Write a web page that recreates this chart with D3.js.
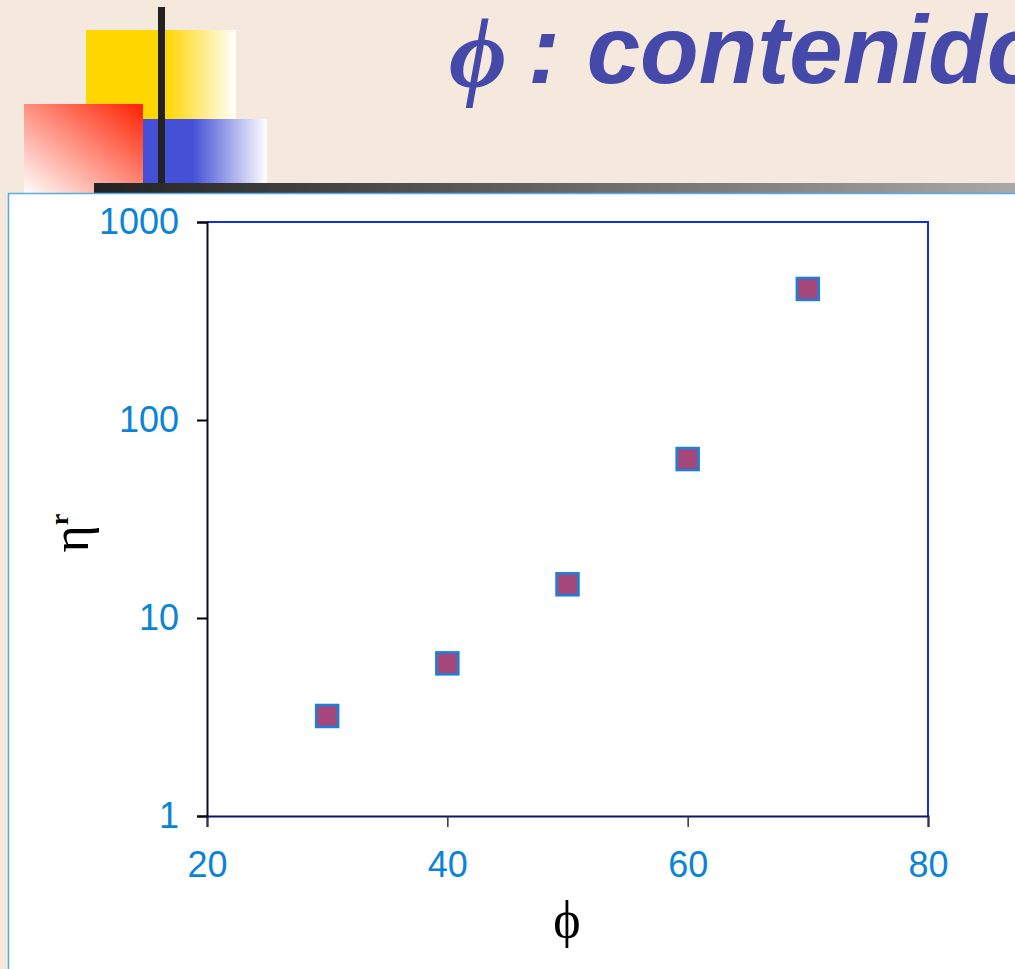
<!DOCTYPE html>
<html>
<head>
<meta charset="utf-8">
<script src="https://cdn.jsdelivr.net/npm/d3@7"></script>
<style>
  body { margin: 0; background: #F5E8DD; overflow: hidden; }
  svg { display: block; }
</style>
</head>
<body>
<div id="vis"></div>
<script>
const FRAME_WIDTH = 1015;
const FRAME_HEIGHT = 969;
const PLOT = {left: 207, right: 928, top: 222, bottom: 816};

// data
const PHI = [30, 40, 50, 60, 70];
const ETA_R = [3.2, 5.9, 14.8, 63.5, 459];
const X_TICKS = [20, 40, 60, 80];
const Y_TICKS = [1, 10, 100, 1000];

const X_SCALE = d3.scaleLinear()
                  .domain([20, 80])
                  .range([PLOT.left, PLOT.right]);

const Y_SCALE = d3.scaleLog()
                  .domain([1, 1000])
                  .range([PLOT.bottom, PLOT.top]);

const SVG = d3.select("#vis")
              .append("svg")
                .attr("width", FRAME_WIDTH)
                .attr("height", FRAME_HEIGHT);

// gradients for the slide decoration
const DEFS = SVG.append("defs");

const gYellow = DEFS.append("linearGradient").attr("id", "gYellow");
gYellow.append("stop").attr("offset", 0.53).attr("stop-color", "#FFD600");
gYellow.append("stop").attr("offset", 1).attr("stop-color", "#FFFFFF");

const gBlue = DEFS.append("linearGradient").attr("id", "gBlue");
gBlue.append("stop").attr("offset", 0.4).attr("stop-color", "#4450D6");
gBlue.append("stop").attr("offset", 1).attr("stop-color", "#FFFFFF");

const gRed = DEFS.append("linearGradient").attr("id", "gRed")
                 .attr("x1", 1).attr("y1", 0).attr("x2", 0).attr("y2", 1);
gRed.append("stop").attr("offset", 0).attr("stop-color", "#FF2000");
gRed.append("stop").attr("offset", 1).attr("stop-color", "#FFFFFF");

const gBar = DEFS.append("linearGradient").attr("id", "gBar");
gBar.append("stop").attr("offset", 0).attr("stop-color", "#222222");
gBar.append("stop").attr("offset", 1).attr("stop-color", "#A8A8A8");

// slide decoration
SVG.append("rect").attr("x", 86).attr("y", 30).attr("width", 150).attr("height", 89)
   .attr("fill", "url(#gYellow)");
SVG.append("rect").attr("x", 24).attr("y", 104).attr("width", 119).attr("height", 90)
   .attr("fill", "url(#gRed)");
SVG.append("rect").attr("x", 143).attr("y", 119).attr("width", 124).attr("height", 64)
   .attr("fill", "url(#gBlue)");
SVG.append("rect").attr("x", 158).attr("y", 7).attr("width", 7).attr("height", 176)
   .attr("fill", "#222222");
SVG.append("rect").attr("x", 94).attr("y", 183).attr("width", 921).attr("height", 10)
   .attr("fill", "url(#gBar)");

// title (runs off the right edge, as in the slide)
const TITLE = SVG.append("text")
                 .attr("x", 449)
                 .attr("y", 87)
                 .attr("fill", "#4449AA")
                 .attr("font-style", "italic");
TITLE.append("tspan")
     .attr("font-family", "Liberation Serif, serif")
     .attr("font-size", "100px")
     .attr("font-weight", "bold")
     .text("ϕ");
TITLE.append("tspan")
     .attr("x", 528)
     .attr("y", 83)
     .attr("font-family", "Liberation Sans, Arial, sans-serif")
     .attr("font-size", "96px")
     .attr("font-weight", "bold")
     .text(": contenido");

// chart frame
SVG.append("rect")
   .attr("x", 8.5).attr("y", 193.5)
   .attr("width", 1020).attr("height", 800)
   .attr("fill", "#FFFFFF")
   .attr("stroke", "#5AAAE2")
   .attr("stroke-width", 1.5);

// top and right border of plot area
SVG.append("path")
   .attr("d", "M" + PLOT.left + "," + PLOT.top + "H" + PLOT.right + "V" + PLOT.bottom)
   .attr("fill", "none")
   .attr("stroke", "#1030E0")
   .attr("stroke-width", 2);

// x axis
const XAXIS = SVG.append("g")
   .attr("transform", "translate(0," + PLOT.bottom + ")")
   .call(d3.axisBottom(X_SCALE).tickValues(X_TICKS).tickSizeOuter(0).tickSize(11).tickPadding(24));
XAXIS.select(".domain").attr("stroke", "#12126A").attr("stroke-width", 2);
XAXIS.selectAll(".tick line").attr("stroke", "#333333").attr("stroke-width", 1.5);
XAXIS.selectAll(".tick text")
     .attr("fill", "#0A84D8")
     .attr("font-size", "36px")
     .attr("font-family", "Liberation Sans, Arial, sans-serif");

// y axis
const YAXIS = SVG.append("g")
   .attr("transform", "translate(" + PLOT.left + ",0)")
   .call(d3.axisLeft(Y_SCALE).tickValues(Y_TICKS).tickFormat(d3.format("d"))
           .tickSizeOuter(0).tickSize(10).tickPadding(18));
YAXIS.select(".domain").attr("stroke", "#0A0A30").attr("stroke-width", 2);
YAXIS.selectAll(".tick line").attr("stroke", "#000000").attr("stroke-width", 2);
YAXIS.selectAll(".tick text")
     .attr("fill", "#0A84D8")
     .attr("font-size", "36px")
     .attr("font-family", "Liberation Sans, Arial, sans-serif");

// points
const SIDE = 22;
SVG.selectAll(".point")
   .data(PHI)
   .enter()
   .append("rect")
     .attr("class", "point")
     .attr("x", (d) => X_SCALE(d) - SIDE / 2)
     .attr("y", (d, i) => Y_SCALE(ETA_R[i]) - SIDE / 2)
     .attr("width", SIDE)
     .attr("height", SIDE)
     .attr("fill", "#A4487C")
     .attr("stroke", "#1A80D8")
     .attr("stroke-width", 2.5);

// axis titles
SVG.append("text")
   .attr("x", 567)
   .attr("y", 937)
   .attr("text-anchor", "middle")
   .attr("font-size", "52px")
   .attr("font-family", "Liberation Serif, serif")
   .attr("fill", "#000000")
   .text("ϕ");

const YTITLE = SVG.append("text")
   .attr("transform", "translate(88,533) rotate(-90)")
   .attr("text-anchor", "middle")
   .attr("font-size", "52px")
   .attr("font-family", "Liberation Serif, serif")
   .attr("fill", "#000000");
YTITLE.append("tspan").text("η");
YTITLE.append("tspan")
      .attr("font-size", "26px")
      .attr("dy", -20)
      .attr("font-weight", "bold")
      .text("r");
</script>
</body>
</html>
